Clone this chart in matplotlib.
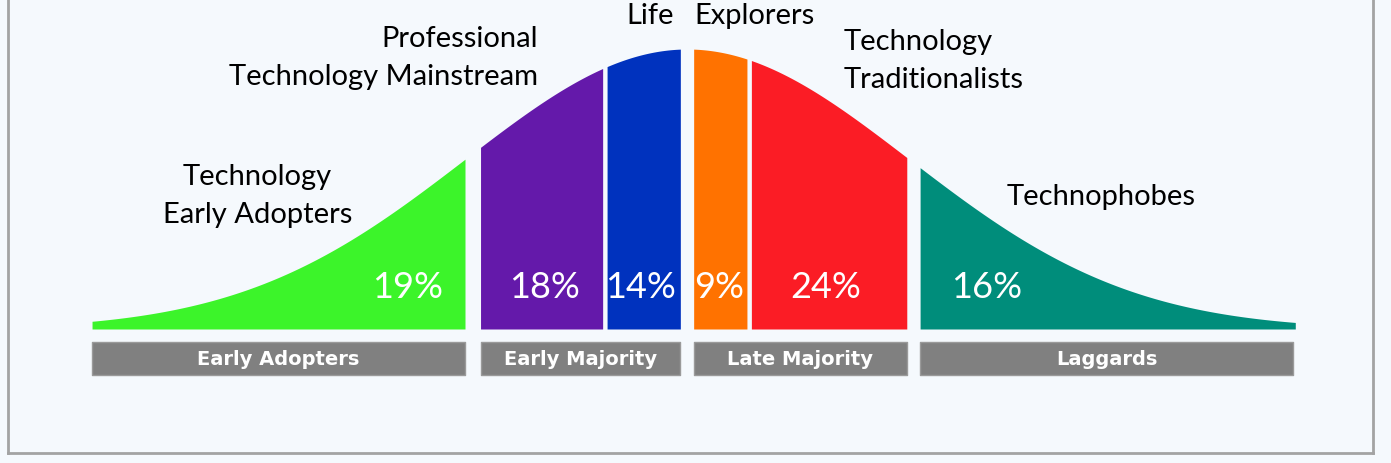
import numpy as np
import matplotlib.pyplot as plt
from matplotlib.lines import Line2D

# segments of the adoption curve (x in standard deviations)
seg_labels = ["Technology Early Adopters", "Professional Technology Mainstream", "Life",
              "Explorers", "Technology Traditionalists", "Technophobes"]
shares = [19, 18, 14, 9, 24, 16]
seg_left = [-2.68, -0.93, -0.36, 0.03, 0.29, 1.05]
seg_right = [-1.00, -0.38, -0.03, 0.27, 0.99, 2.74]
seg_colors = ["#3cf42a", "#6419aa", "#0032be", "#ff7200", "#fb1c25", "#008d7b"]

# groups under the curve
groups = ["Early Adopters", "Early Majority", "Late Majority", "Laggards"]
group_left = [-2.68, -0.93, 0.03, 1.05]
group_right = [-1.00, -0.03, 0.99, 2.73]

W, H = 1391, 464
fig = plt.figure(figsize=(W / 100, H / 100), dpi=100)
fig.patch.set_facecolor("#f5f9fd")
ax = fig.add_axes([0, 0, 1, 1])
ax.set_facecolor("#f5f9fd")
ax.set_xlim(-687 / 222, (W - 687) / 222)
ax.set_ylim((330 - H) / 280, 330 / 280)
ax.axis("off")

label_font = ["Lato", "DejaVu Sans"]

for lo, hi, c in zip(seg_left, seg_right, seg_colors):
    x = np.linspace(lo, hi, 200)
    ax.fill_between(x, 0, np.exp(-x ** 2 / 2), color=c, lw=0)

# percentages
pct_x = [-1.26, -0.64, -0.21, 0.145, 0.625, 1.35]
for px, s in zip(pct_x, shares):
    ax.text(px, 0.15, f"{s}%", color="white", fontsize=26, family=label_font,
            ha="center", va="center")

# grey group bars
for lo, hi, g in zip(group_left, group_right, groups):
    ax.fill_between([lo, hi], -0.164, -0.046, color="#808080", ec="#9a9a9a", lw=1)
    ax.text((lo + hi) / 2, -0.105, g, color="white", fontsize=14, fontweight="bold",
            family="DejaVu Sans", ha="center", va="center")

# segment names
tk = dict(color="black", fontsize=21, family=label_font, linespacing=1.58)
ax.text(-1.935, 0.479, "Technology\nEarly Adopters", ha="center", va="center", **tk)
ax.text(-0.67, 0.971, "Professional\nTechnology Mainstream", ha="right", va="center",
        multialignment="right", **tk)
ax.text(-0.06, 1.121, "Life", ha="right", va="center", **tk)
ax.text(0.035, 1.121, "Explorers", ha="left", va="center", **tk)
ax.text(0.705, 0.961, "Technology\nTraditionalists", ha="left", va="center",
        multialignment="left", **tk)
ax.text(1.44, 0.475, "Technophobes", ha="left", va="center", **tk)

# frame
frame = "#a3a3a3"
fig.add_artist(Line2D([8 / W, 8 / W], [1, 1 - 454 / H], color=frame, lw=2))
fig.add_artist(Line2D([1373 / W, 1373 / W], [1, 1 - 454 / H], color=frame, lw=2))
fig.add_artist(Line2D([8 / W, 1373 / W], [1 - 454 / H, 1 - 454 / H], color=frame, lw=2))

fig.savefig("out.png", dpi=100, facecolor=fig.get_facecolor())
